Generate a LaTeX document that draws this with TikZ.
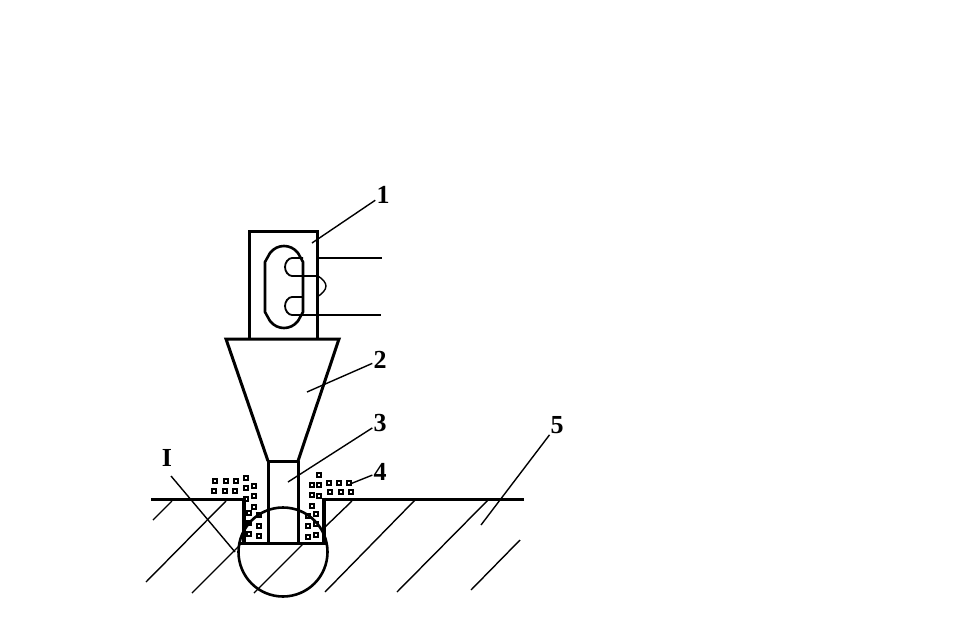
\documentclass[tikz,border=0pt]{standalone}
\usepackage{fontspec}
\setmainfont{Liberation Serif}
\tikzset{
	heavy/.style={line width=3pt},
	medium/.style={line width=2.6pt},
	thin line/.style={line width=1.4pt},
	loop line/.style={line width=1.8pt},
	grain/.style={draw,rectangle,line width=1.7pt,inner sep=0,outer sep=0,minimum width=4.5pt,minimum height=4pt},
	num/.style={font=\bfseries\fontsize{26}{26}\selectfont,inner sep=1pt}
}
\begin{document}
\begin{tikzpicture}[x=1pt,y=-1pt]
	\useasboundingbox (0,0) rectangle (962,627);
	\node[num] (n1) at (383,195) {1};
	\node[num] (n2) at (380,360) {2};
	\node[num] (n3) at (380,423) {3};
	\node[num] (n4) at (380,472) {4};
	\node[num] (n5) at (557,425) {5};
	\node[num] (nI) at (167,458) {I};
	\coordinate (e1) at (312,243);
	\coordinate (e2) at (307,392);
	\coordinate (e3) at (288,482);
	\coordinate (e4) at (350,484);
	\coordinate (e5) at (481,525);
	\coordinate (eI) at (235,552);
	\draw[thin line] (n1) -- (e1);
	\draw[thin line] (n2) -- (e2);
	\draw[thin line] (n3) -- (e3);
	\draw[thin line] (n4) -- (e4);
	\draw[thin line] (n5) -- (e5);
	\draw[thin line] (171,476) -- (eI);
	% clamp
	\draw[heavy] (249,338) -- (249,231) -- (317,231) -- (317,338);
	\draw[medium] (284,246) .. controls (279,246) and (274,248) .. (270,253) -- (265,262) -- (265,312) -- (270,321) .. controls (274,326) and (279,328) .. (284,328) .. controls (289,328) and (294,326) .. (298,321) -- (303,312) -- (303,262) -- (298,253) .. controls (294,248) and (289,246) .. (284,246) -- cycle;
	\draw[thin line] (317,258) -- (382,258);
	\draw[loop line] (303,258) -- (292,258) .. controls (288,258) and (285,263) .. (285,267) .. controls (285,271) and (288,276) .. (292,276) -- (318,276);
	\draw[thin line] (318,276) .. controls (323,279) and (326,283) .. (326,286) .. controls (326,290) and (322,294) .. (317,297);
	\draw[loop line] (303,297) -- (292,297) .. controls (288,297) and (285,302) .. (285,306) .. controls (285,310) and (288,315) .. (292,315) -- (304,315);
	\draw[thin line] (304,315) -- (381,315);
	% cone and rod
	\draw[heavy,line join=miter] (268,461) -- (226,339) -- (339,339) -- (298,461);
	\draw[heavy] (268,461) -- (298,461);
	\draw[heavy] (268,461) -- (268,543);
	\draw[heavy] (298,461) -- (298,543);
	% ground
	\draw[heavy] (151,499) -- (244,499);
	\draw[heavy] (524,499) -- (324,499);
	\draw[line width=4pt] (244,497.500) -- (244,543);
	\draw[line width=4pt] (324,497.500) -- (324,543);
	\draw[heavy] (240,543) -- (326,543);
	\draw[medium] (283,552) circle (44.5);
	% hatching
	\draw[thin line] (172,501) -- (153,520);
	\draw[thin line] (226,501) -- (146,582);
	\draw[thin line] (240,545) -- (192,593);
	\draw[thin line] (303,544) -- (254,593);
	\draw[thin line] (352,501) -- (325,527);
	\draw[thin line] (415,500) -- (325,592);
	\draw[thin line] (488,500) -- (397,592);
	\draw[thin line] (520,540) -- (471,590);
	% grains
	\node[grain] (g1) at (215,481) {};
	\node[grain] (g2) at (226,481) {};
	\node[grain] (g3) at (236,481) {};
	\node[grain] (g4) at (246,478) {};
	\node[grain] (g5) at (214,491) {};
	\node[grain] (g6) at (225,491) {};
	\node[grain] (g7) at (235,491) {};
	\node[grain] (g8) at (246,488) {};
	\node[grain] (g9) at (254,486) {};
	\node[grain] (g10) at (254,496) {};
	\node[grain] (g11) at (246,499) {};
	\node[grain] (g12) at (254,507) {};
	\node[grain] (g13) at (249,513) {};
	\node[grain] (g14) at (259,515) {};
	\node[grain] (g15) at (249,523) {};
	\node[grain] (g16) at (259,526) {};
	\node[grain] (g17) at (249,534) {};
	\node[grain] (g18) at (259,536) {};
	\node[grain] (g19) at (319,475) {};
	\node[grain] (g20) at (312,485) {};
	\node[grain] (g21) at (319,485) {};
	\node[grain] (g22) at (329,483) {};
	\node[grain] (g23) at (339,483) {};
	\node[grain] (g24) at (349,483) {};
	\node[grain] (g25) at (312,495) {};
	\node[grain] (g26) at (319,496) {};
	\node[grain] (g27) at (330,492) {};
	\node[grain] (g28) at (341,492) {};
	\node[grain] (g29) at (351,492) {};
	\node[grain] (g30) at (312,506) {};
	\node[grain] (g31) at (316,514) {};
	\node[grain] (g32) at (308,516) {};
	\node[grain] (g33) at (316,524) {};
	\node[grain] (g34) at (308,526) {};
	\node[grain] (g35) at (316,535) {};
	\node[grain] (g36) at (308,537) {};
\end{tikzpicture}
\end{document}
